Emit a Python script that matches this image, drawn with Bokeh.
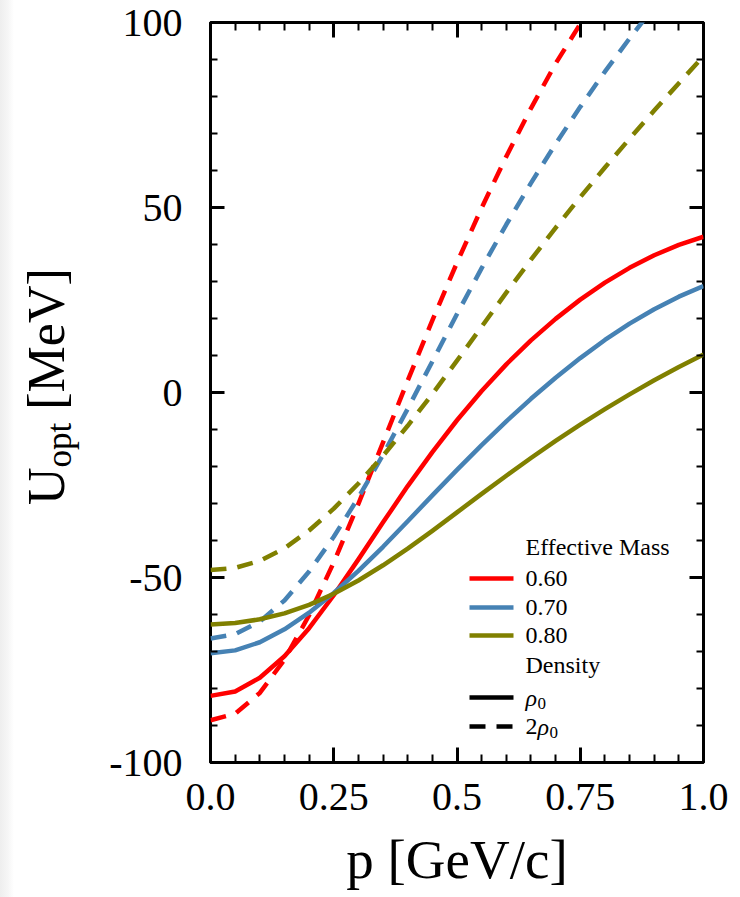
from bokeh.embed import file_html
from bokeh.layouts import row
from bokeh.models import Div, FixedTicker, Label, LinearAxis, Range1d
from bokeh.plotting import figure
from bokeh.resources import INLINE

# ---------------------------------------------------------------------------
# Optical potential U_opt [MeV] versus momentum p [GeV/c]
# ---------------------------------------------------------------------------
momentum = [0.00, 0.05, 0.10, 0.15, 0.20, 0.25, 0.30, 0.35, 0.40, 0.45, 0.50,
            0.55, 0.60, 0.65, 0.70, 0.75, 0.80, 0.85, 0.90, 0.95, 1.00]

# saturation density rho_0 (solid)
u_m060_rho0 = [-82.0, -80.8, -77.1, -71.3, -63.7, -54.8, -45.1, -35.1, -25.3, -16.1, -7.5,
               0.4, 7.6, 14.1, 19.9, 25.1, 29.7, 33.7, 37.1, 39.9, 42.1]
u_m070_rho0 = [-70.5, -69.7, -67.5, -64.0, -59.5, -54.2, -48.2, -41.7, -34.8, -27.8, -20.9,
               -14.2, -7.8, -1.7, 4.0, 9.3, 14.2, 18.6, 22.5, 25.9, 28.8]
u_m080_rho0 = [-62.7, -62.3, -61.3, -59.7, -57.4, -54.4, -50.8, -46.7, -42.2, -37.4, -32.4,
               -27.4, -22.5, -17.7, -13.1, -8.7, -4.5, -0.5, 3.3, 6.9, 10.3]

# twice saturation density 2 rho_0 (dashed); the steep curves leave the box early
u_m060_2rho0 = [-88.6, -86.8, -81.2, -72.2, -60.2, -45.9, -30.1, -13.5, 3.2, 19.5, 35.1,
                49.9, 63.8, 76.8, 88.9, 99.6, 109.5]
u_m070_2rho0 = [-66.5, -65.3, -61.9, -56.2, -48.4, -39.0, -28.4, -16.8, -4.4, 8.4, 21.2,
                33.6, 45.4, 56.6, 67.2, 77.2, 86.7, 95.7, 104.3]
u_m080_2rho0 = [-48.0, -47.4, -45.5, -42.1, -37.3, -31.4, -24.6, -17.1, -9.0, -0.4, 8.6,
                17.8, 27.0, 35.9, 44.5, 52.8, 60.8, 68.6, 76.2, 83.6, 90.9]

mass_labels = ["0.60", "0.70", "0.80"]
mass_colors = ["#ff0000", "#4682b4", "#808000"]

x_ticks = [0.0, 0.25, 0.5, 0.75, 1.0]
x_tick_labels = ["0.0", "0.25", "0.5", "0.75", "1.0"]
x_minor = [0.05, 0.10, 0.15, 0.20, 0.30, 0.35, 0.40, 0.45, 0.55, 0.60, 0.65, 0.70,
           0.80, 0.85, 0.90, 0.95]
y_ticks = [-100, -50, 0, 50, 100]
y_tick_labels = ["-100", "-50", "0", "50", "100"]
y_minor = [v for v in range(-90, 100, 10) if v % 50 != 0]

# ---------------------------------------------------------------------------
W, H = 740, 897
TITLE_W = 90                      # strip on the left holding the y title
LEFT, RIGHT, TOP, BOTTOM = 210, 37, 22, 135   # frame margins on the full page
X0, X1, Y0, Y1 = 0.0, 1.0, -100.0, 100.0
FRAME_W = W - LEFT - RIGHT
FRAME_H = H - TOP - BOTTOM
SERIF = "Liberation Serif"


def to_data(px, py):
    """Page pixel position -> data coordinates of the main plot."""
    x = X0 + (px - LEFT) / FRAME_W * (X1 - X0)
    y = Y1 - (py - TOP) / FRAME_H * (Y1 - Y0)
    return x, y


p = figure(width=W - TITLE_W, height=H, x_range=Range1d(X0, X1), y_range=Range1d(Y0, Y1),
           output_backend="svg", toolbar_location=None,
           min_border_left=LEFT - TITLE_W, min_border_right=RIGHT,
           min_border_top=TOP, min_border_bottom=BOTTOM)
p.grid.visible = False
p.background_fill_color = "white"
p.border_fill_color = "white"
p.outline_line_color = "black"
p.outline_line_width = 3


def style_axis(ax, ticks, minor, labels, tick_len, minor_len, standoff, show_labels):
    ax.ticker = FixedTicker(ticks=ticks, minor_ticks=minor)
    ax.axis_line_color = None
    ax.major_tick_in = tick_len
    ax.major_tick_out = 0
    ax.minor_tick_in = minor_len
    ax.minor_tick_out = 0
    ax.major_tick_line_color = "black"
    ax.minor_tick_line_color = "black"
    ax.major_tick_line_width = 3
    ax.minor_tick_line_width = 2
    ax.major_label_standoff = standoff
    ax.major_label_text_font = SERIF
    ax.major_label_text_font_size = "40px"
    ax.major_label_text_color = "black"
    if show_labels:
        ax.major_label_overrides = {t: s for t, s in zip(ticks, labels)}
    else:
        ax.major_label_overrides = {t: "" for t in ticks}
        ax.major_label_text_font_size = "1px"


style_axis(p.xaxis[0], x_ticks, x_minor, x_tick_labels, 15, 8, 21, True)
style_axis(p.yaxis[0], y_ticks, y_minor, y_tick_labels, 14, 7, 28, True)

xa = p.xaxis[0]
xa.axis_label = "p [GeV/c]"
xa.axis_label_text_font = SERIF
xa.axis_label_text_font_size = "55px"
xa.axis_label_text_font_style = "normal"
xa.axis_label_text_color = "black"
xa.axis_label_standoff = 16

top_axis = LinearAxis()
style_axis(top_axis, x_ticks, x_minor, x_tick_labels, 15, 8, 0, False)
p.add_layout(top_axis, "above")
right_axis = LinearAxis()
style_axis(right_axis, y_ticks, y_minor, y_tick_labels, 14, 7, 0, False)
p.add_layout(right_axis, "right")

# curves
LW = 4.5
DASH = "16 11"
solid_sets = [u_m060_rho0, u_m070_rho0, u_m080_rho0]
dashed_sets = [u_m060_2rho0, u_m070_2rho0, u_m080_2rho0]
for vals, color in zip(dashed_sets, mass_colors):
    p.line(momentum[:len(vals)], vals, line_color=color, line_width=LW,
           line_dash=DASH, line_join="round")
for vals, color in zip(solid_sets, mass_colors):
    p.line(momentum[:len(vals)], vals, line_color=color, line_width=LW, line_join="round")

# ---------------------------------------------------------------------------
# hand-built legend
LEG_X0, LEG_X1, LEG_TXT = 469, 513, 525
LEG_FONT = "24px"
SUB_FONT = "17px"


def text(px, py, s, size, align="left", baseline="middle", style="normal"):
    x, y = to_data(px, py)
    p.add_layout(Label(x=x, y=y, text=s, text_font=SERIF, text_font_size=size,
                       text_align=align, text_baseline=baseline,
                       text_font_style=style, text_color="black"))


def sample(py, color, dash="solid"):
    xa_, y = to_data(LEG_X0, py)
    xb_, _ = to_data(LEG_X1, py)
    p.line([xa_, xb_], [y, y], line_color=color, line_width=LW, line_dash=dash)


text(LEG_TXT, 546, "Effective Mass", LEG_FONT)
for row_y, lab, color in zip([578, 607, 635], mass_labels, mass_colors):
    sample(row_y, color)
    text(LEG_TXT, row_y, lab, LEG_FONT)
text(LEG_TXT, 664, "Density", LEG_FONT)
sample(697, "black")
text(LEG_TXT, 697, "\u03c1", LEG_FONT, style="italic")
text(LEG_TXT + 12, 703, "0", SUB_FONT)
sample(726, "black", DASH)
text(LEG_TXT, 726, "2", LEG_FONT)
text(LEG_TXT + 12, 726, "\u03c1", LEG_FONT, style="italic")
text(LEG_TXT + 24, 732, "0", SUB_FONT)

# ---------------------------------------------------------------------------
# vertical title U_opt [MeV]: rotated HTML text in a strip left of the plot
TITLE_SIZE = 52
title_baseline_x = 65          # page x of the rotated text's baseline
title_start_y = 505            # page y where the text begins (it reads upward)
line_top = title_baseline_x - 0.838 * TITLE_SIZE
title_html = (
    f'<div style="position:relative;width:{TITLE_W}px;height:{H}px;margin:0;padding:0;'
    f'background:linear-gradient(to right,#eeeeee 0px,#f6f6f6 8px,#ffffff 14px);">'
    f'<div style="position:absolute;left:{line_top:.1f}px;top:{title_start_y}px;'
    f'transform:rotate(-90deg);transform-origin:0 0;white-space:nowrap;color:#000;'
    f"font-family:'{SERIF}',serif;font-size:{TITLE_SIZE}px;line-height:{TITLE_SIZE}px;\">"
    f'U<span style="font-size:35px;position:relative;top:7px;">opt</span>&nbsp;[MeV]'
    f'</div></div>'
)
title_strip = Div(text=title_html, width=TITLE_W, height=H, margin=(0, 0, 0, 0))

layout = row(title_strip, p, spacing=0)
open("out.html", "w").write(file_html(layout, INLINE))
